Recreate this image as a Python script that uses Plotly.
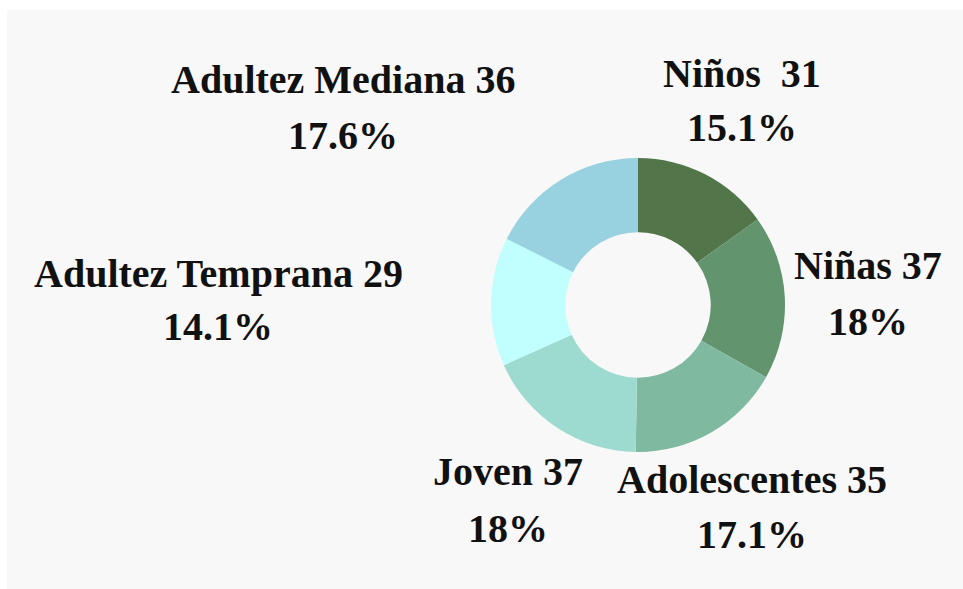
import plotly.graph_objects as go

# ---- data ----
categories = ["Niños", "Niñas", "Adolescentes", "Joven", "Adultez Temprana", "Adultez Mediana"]
label_names = ["Niños ", "Niñas", "Adolescentes", "Joven", "Adultez Temprana", "Adultez Mediana"]
values = [31, 37, 35, 37, 29, 36]
colors = ["#52754a", "#62946e", "#7fb9a0", "#9ddbd0", "#c0fffd", "#98d2e1"]

# ---- layout helpers (page pixel positions: x center, baseline of line 1, baseline of line 2) ----
W, H = 963, 589
label_pos = {
    "Niños": (742, 87, 141),
    "Niñas": (868, 279, 335),
    "Adolescentes": (752, 493, 548),
    "Joven": (508, 485, 542),
    "Adultez Temprana": (218, 287, 340),
    "Adultez Mediana": (343, 93, 149),
}
FS = 40
FONT = dict(family="Liberation Serif, Times New Roman, serif", size=FS, color="#111111")

total = sum(values)

def fmt_pct(v):
    p = round(v / total * 100, 1)
    s = f"{p:.1f}"
    if s.endswith(".0"):
        s = s[:-2]
    return s + "%"

def px(x):
    return x / W

def py(y):
    return 1 - y / H

cx, cy, R = 638, 305, 147
fig = go.Figure(go.Pie(
    labels=categories,
    values=values,
    marker=dict(colors=colors, line=dict(width=0)),
    hole=0.495,
    sort=False,
    direction="clockwise",
    rotation=0,
    textinfo="none",
    showlegend=False,
    domain=dict(x=[px(cx - R), px(cx + R)], y=[py(cy + R), py(cy - R)]),
))

annotations = []
for cat, name, v in zip(categories, label_names, values):
    x, b1, b2 = label_pos[cat]
    for txt, base in ((f"{name} {v}", b1), (fmt_pct(v), b2)):
        ymid = base - 0.34 * FS
        annotations.append(dict(
            x=px(x), y=py(ymid), xref="paper", yref="paper",
            text=f"<b>{txt}</b>", showarrow=False, font=FONT,
            xanchor="center", yanchor="middle",
        ))

fig.update_layout(
    width=W, height=H,
    margin=dict(l=0, r=0, t=0, b=0),
    paper_bgcolor="white",
    plot_bgcolor="white",
    annotations=annotations,
    shapes=[dict(type="rect", xref="paper", yref="paper",
                 x0=px(7), x1=1, y0=0, y1=py(10),
                 fillcolor="#f8f8f8", line=dict(width=0), layer="below")],
)

fig.write_html("out.html",
               config={"displayModeBar": False},
               post_script="document.body.style.margin='0';document.body.style.overflow='hidden';")
